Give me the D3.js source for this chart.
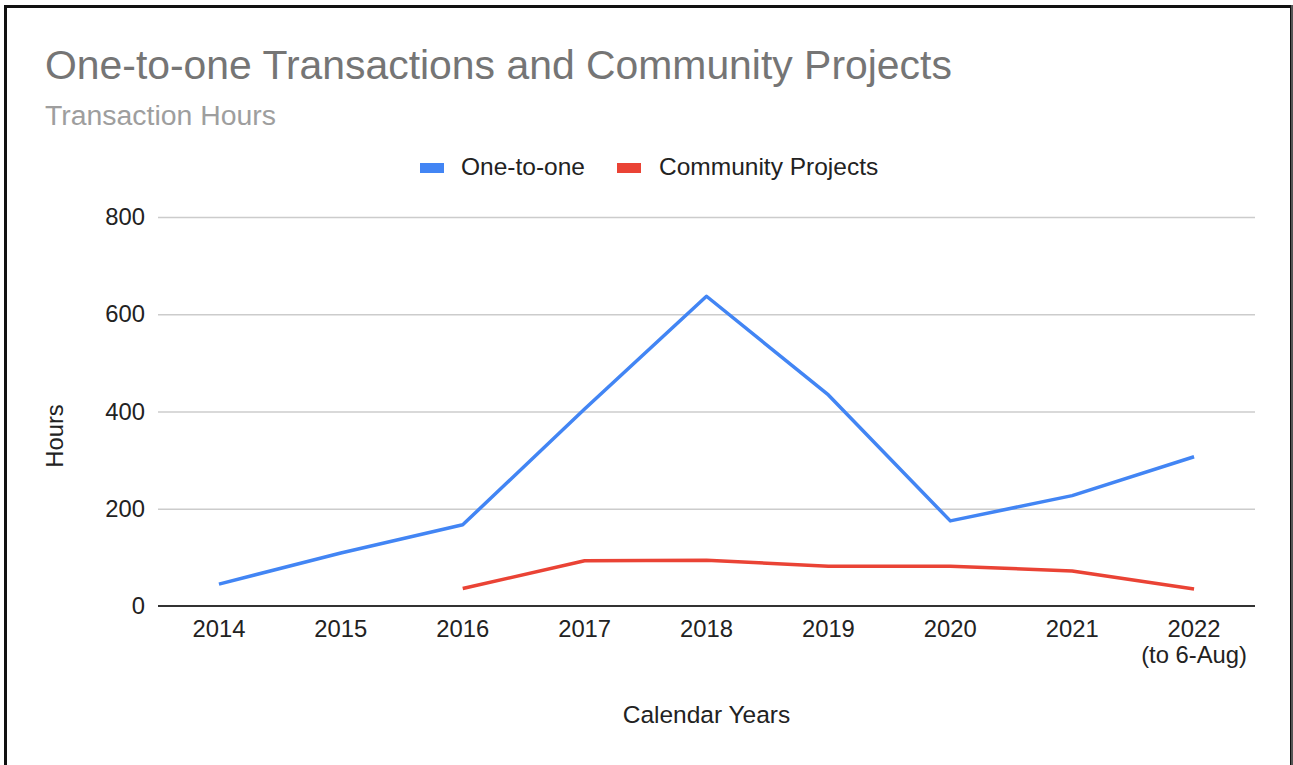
<!DOCTYPE html>
<html>
<head>
<meta charset="utf-8">
<script src="https://cdn.jsdelivr.net/npm/d3@7"></script>
<style>
  html, body { margin: 0; padding: 0; background: #fff; }
  svg { display: block; font-family: "Liberation Sans", Arial, sans-serif; }
</style>
</head>
<body>
<svg id="chart" width="1293" height="765"></svg>
<script>
const categories = ["2014", "2015", "2016", "2017", "2018", "2019", "2020", "2021", "2022"];
const categoryLabels = [["2014"], ["2015"], ["2016"], ["2017"], ["2018"], ["2019"], ["2020"], ["2021"], ["2022", "(to 6-Aug)"]];
const oneToOne = [45, 109, 167, 405, 637, 434, 175, 227, 307];
const communityProjects = [null, null, 36, 93, 94, 82, 82, 72, 35];
const yTicks = [0, 200, 400, 600, 800];
const seriesNames = ["One-to-one", "Community Projects"];
const seriesColors = ["#4285F4", "#EA4335"];
const titleText = "One-to-one Transactions and Community Projects";
const subtitleText = "Transaction Hours";
const xTitle = "Calendar Years";
const yTitle = "Hours";

const svg = d3.select("#chart");
const W = 1293, H = 765;

// frame
svg.append("rect").attr("x", 5.5).attr("y", 6.5).attr("width", 1286).attr("height", 770)
  .attr("fill", "none").attr("stroke", "#111").attr("stroke-width", 3);
svg.append("line").attr("x1", 1292).attr("x2", 1292).attr("y1", 5).attr("y2", H)
  .attr("stroke", "#555").attr("stroke-width", 2);

const plot = { left: 158, right: 1255, top: 217, bottom: 606 };

const x = d3.scaleBand().domain(categories).range([plot.left, plot.right]);
const y = d3.scaleLinear().domain([0, 800]).range([plot.bottom, plot.top]);

// title
svg.append("text").attr("x", 45).attr("y", 79).attr("font-size", 40.9)
  .attr("fill", "#757575").text(titleText);
svg.append("text").attr("x", 45).attr("y", 125).attr("font-size", 28.4)
  .attr("fill", "#9e9e9e").text(subtitleText);

// legend
const legend = svg.append("g");
const legendItems = [{ x: 420, tx: 461 }, { x: 617, tx: 659 }];
seriesNames.forEach((name, i) => {
  legend.append("rect").attr("x", legendItems[i].x).attr("y", 163).attr("width", 24).attr("height", 10)
    .attr("fill", seriesColors[i]);
  legend.append("text").attr("x", legendItems[i].tx).attr("y", 175).attr("font-size", 24.5)
    .attr("fill", "#222").text(name);
});

// gridlines
const yAxis = d3.axisLeft(y).tickValues(yTicks).tickSize(-(plot.right - plot.left)).tickPadding(13);
const gy = svg.append("g").attr("transform", `translate(${plot.left},0)`).call(yAxis);
gy.select(".domain").remove();
gy.selectAll(".tick line").attr("stroke", "#ccc").attr("stroke-width", 1.5)
  .attr("display", d => d === 0 ? "none" : null);
gy.selectAll(".tick text").attr("font-size", 23.8).attr("fill", "#222")
  .attr("font-family", "\"Liberation Sans\", Arial, sans-serif");

// x axis
const xAxis = d3.axisBottom(x).tickSize(0).tickFormat(() => "");
const gx = svg.append("g").attr("transform", `translate(0,${plot.bottom})`).call(xAxis);
gx.select(".domain").remove();
gx.selectAll(".tick").each(function(d, i) {
  const t = d3.select(this).append("text").attr("fill", "#222").attr("font-size", 23.8)
    .attr("text-anchor", "middle")
    .attr("font-family", "\"Liberation Sans\", Arial, sans-serif");
  categoryLabels[i].forEach((line, j) => {
    t.append("tspan").attr("x", 0).attr("y", 31 + j * 26).text(line);
  });
});

svg.append("line").attr("x1", plot.left).attr("x2", plot.right)
  .attr("y1", y(0)).attr("y2", y(0)).attr("stroke", "#333").attr("stroke-width", 2);

// axis titles
svg.append("text").attr("x", (plot.left + plot.right) / 2).attr("y", 723)
  .attr("text-anchor", "middle").attr("font-size", 24.5).attr("fill", "#222").text(xTitle);
svg.append("text").attr("transform", "translate(63,436) rotate(-90)")
  .attr("text-anchor", "middle").attr("font-size", 23.8).attr("fill", "#222").text(yTitle);

// lines
const line = d3.line()
  .defined(d => d.v !== null)
  .x(d => x(d.c) + x.bandwidth() / 2)
  .y(d => y(d.v));

[oneToOne, communityProjects].forEach((vals, i) => {
  const data = categories.map((c, k) => ({ c, v: vals[k] }));
  svg.append("path").datum(data).attr("d", line).attr("fill", "none")
    .attr("stroke", seriesColors[i]).attr("stroke-width", 3.5).attr("stroke-linejoin", "round");
});
</script>
</body>
</html>
